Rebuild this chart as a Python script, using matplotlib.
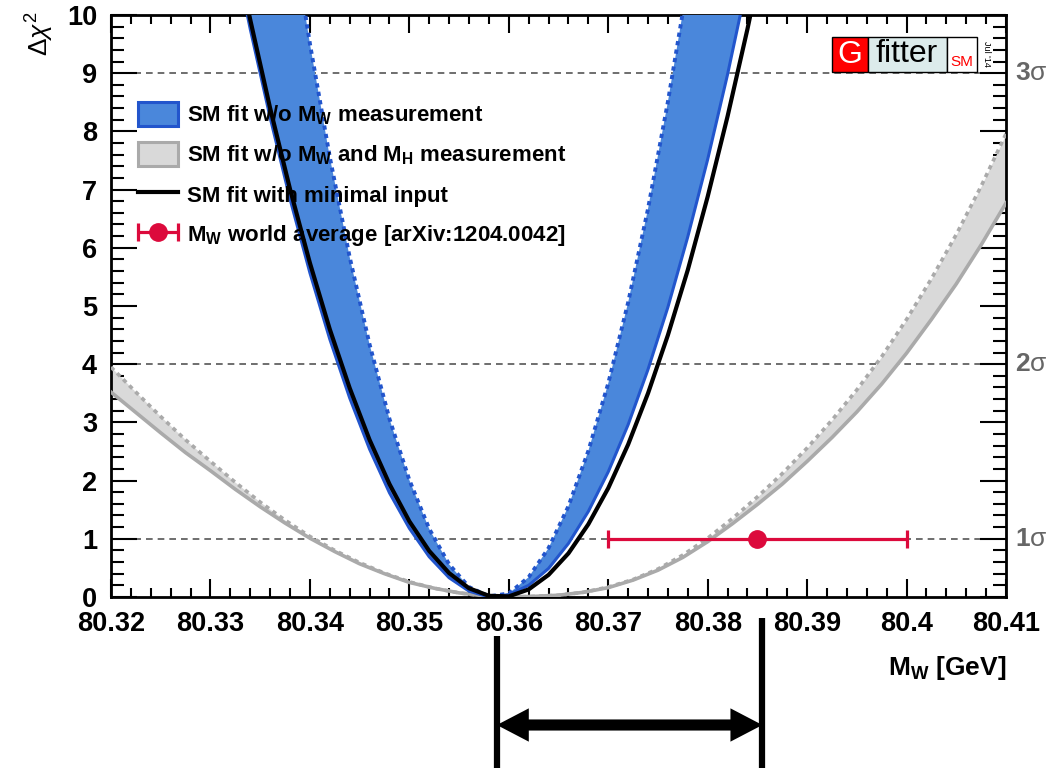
import matplotlib
matplotlib.use('Agg')
import matplotlib.pyplot as plt
import matplotlib.transforms as mtransforms
from matplotlib.patches import Patch, Rectangle, FancyArrowPatch
from matplotlib.lines import Line2D
from matplotlib.legend_handler import HandlerErrorbar
from matplotlib.ticker import MultipleLocator, FixedLocator

plt.rcParams['font.family'] = ['Liberation Sans', 'DejaVu Sans']
plt.rcParams['mathtext.fontset'] = 'custom'
plt.rcParams['mathtext.rm'] = 'Liberation Sans'
plt.rcParams['mathtext.bf'] = 'Liberation Sans:bold'
plt.rcParams['mathtext.it'] = 'Liberation Sans:italic'
plt.rcParams['mathtext.sf'] = 'Liberation Sans'

# --- data ---
# blue band + black curve (MW in GeV, delta chi2)
mw_fit = [80.332, 80.334, 80.336, 80.338, 80.340, 80.342, 80.344, 80.346,
          80.348, 80.350, 80.352, 80.354, 80.356, 80.358, 80.360, 80.362,
          80.364, 80.366, 80.368, 80.370, 80.372, 80.374, 80.376, 80.378,
          80.380, 80.382, 80.384, 80.386]
chi2_nomw_outer = [11.42, 9.76, 8.24, 6.84, 5.57, 4.43, 3.42, 2.54, 1.79,
                   1.18, 0.69, 0.33, 0.10, 0.00, 0.04, 0.20, 0.49, 0.92,
                   1.47, 2.15, 2.96, 3.91, 4.98, 6.19, 7.52, 8.98, 10.58,
                   12.30]
chi2_nomw_inner = [19.51, 16.67, 14.06, 11.67, 9.51, 7.56, 5.84, 4.34, 3.06,
                   2.01, 1.17, 0.56, 0.17, 0.01, 0.06, 0.34, 0.84, 1.56,
                   2.51, 3.67, 5.06, 6.67, 8.51, 10.56, 12.84, 15.34, 18.06,
                   21.00]
chi2_minimal = [11.56, 9.92, 8.40, 7.01, 5.74, 4.60, 3.59, 2.70, 1.94, 1.30,
                0.79, 0.41, 0.15, 0.02, 0.01, 0.13, 0.38, 0.75, 1.25, 1.87,
                2.62, 3.50, 4.50, 5.62, 6.88, 8.26, 9.76, 11.39]

# grey band (fit w/o MW and MH)
mw_grey = [80.3200, 80.3225, 80.3250, 80.3275, 80.3300, 80.3325, 80.3350,
           80.3375, 80.3400, 80.3425, 80.3450, 80.3475, 80.3500, 80.3525,
           80.3550, 80.3575, 80.3600, 80.3625, 80.3650, 80.3675, 80.3700,
           80.3725, 80.3750, 80.3775, 80.3800, 80.3825, 80.3850, 80.3875,
           80.3900, 80.3925, 80.3950, 80.3975, 80.4000, 80.4025, 80.4050,
           80.4075, 80.4100]
chi2_grey_inner = [3.95, 3.52, 3.10, 2.70, 2.33, 1.97, 1.63, 1.32, 1.04, 0.80,
                   0.59, 0.41, 0.26, 0.15, 0.07, 0.02, 0.00, 0.01, 0.03, 0.08,
                   0.17, 0.30, 0.48, 0.72, 1.01, 1.35, 1.72, 2.12, 2.56, 3.04,
                   3.56, 4.13, 4.77, 5.47, 6.23, 7.06, 7.96]
chi2_grey_outer = [3.52, 3.17, 2.82, 2.48, 2.17, 1.85, 1.55, 1.27, 1.01, 0.78,
                   0.57, 0.40, 0.25, 0.15, 0.07, 0.02, 0.00, 0.01, 0.03, 0.08,
                   0.16, 0.29, 0.46, 0.68, 0.95, 1.26, 1.59, 1.94, 2.33, 2.74,
                   3.18, 3.66, 4.19, 4.77, 5.38, 6.05, 6.77]

# world average
mw_avg = 80.385
mw_err = 0.015
# ends of the arrow drawn below the axis
arrow_left = 80.3588
arrow_right = 80.3855

sigma_levels = [1, 4, 9]
sigma_digits = ['1', '2', '3']

x_ticks = [80.32, 80.33, 80.34, 80.35, 80.36, 80.37, 80.38, 80.39, 80.40, 80.41]
x_tick_labels = ['80.32', '80.33', '80.34', '80.35', '80.36', '80.37',
                 '80.38', '80.39', '80.4', '80.41']
y_ticks = [0, 1, 2, 3, 4, 5, 6, 7, 8, 9, 10]

blue_fill = '#4a87db'
blue_line = '#2255cc'
grey_fill = '#d9d9d9'
grey_line = '#aaaaaa'
red = '#dc0a3c'

fig = plt.figure(figsize=(10.59, 7.68), dpi=100)
ax = fig.add_axes([0.1048, 0.2227, 0.8452, 0.7578])

# sigma lines
for lev in sigma_levels:
    ax.axhline(lev, color='#555555', lw=1.2, ls=(0, (4, 3)), zorder=1)

# grey band
ax.fill_between(mw_grey, chi2_grey_outer, chi2_grey_inner, color=grey_fill,
                lw=0, zorder=2)
ax.plot(mw_grey, chi2_grey_outer, color=grey_line, lw=2.6, zorder=3)
ax.plot(mw_grey, chi2_grey_inner, color=grey_line, lw=2.6,
        dashes=(1.2, 1.2), zorder=3)

# blue band
ax.fill_between(mw_fit, chi2_nomw_outer, chi2_nomw_inner, color=blue_fill,
                lw=0, zorder=4)
ax.plot(mw_fit, chi2_nomw_outer, color=blue_line, lw=2.2, zorder=5)
ax.plot(mw_fit, chi2_nomw_inner, color=blue_line, lw=2.8,
        dashes=(1.1, 1.1), zorder=5)

# black curve
ax.plot(mw_fit, chi2_minimal, color='black', lw=3.0, zorder=6)

# world average
eb = ax.errorbar([mw_avg], [1], xerr=[mw_err], fmt='o', color=red, ms=12.5,
                 lw=2.3, capsize=6.5, capthick=2.3, zorder=7)

ax.set_xlim(80.32, 80.41)
ax.set_ylim(0, 10)
ax.xaxis.set_major_locator(FixedLocator(x_ticks))
ax.set_xticklabels(x_tick_labels)
ax.xaxis.set_minor_locator(MultipleLocator(0.002))
ax.yaxis.set_major_locator(FixedLocator(y_ticks))
ax.yaxis.set_minor_locator(MultipleLocator(0.2))
ax.tick_params(which='both', direction='in', top=True, right=True, width=1.5)
ax.tick_params(axis='x', which='major', length=13, pad=10, labelsize=19.5)
ax.tick_params(axis='x', which='minor', length=6.5)
ax.tick_params(axis='y', which='major', length=19, pad=10, labelsize=19.5)
ax.tick_params(axis='y', which='minor', length=9.5)
for t in ax.get_xticklabels() + ax.get_yticklabels():
    t.set_fontweight('bold')
for sp in ax.spines.values():
    sp.set_linewidth(2.0)

# sigma labels on the right
trans_r = mtransforms.blended_transform_factory(ax.transAxes, ax.transData)
for lev, dig in zip(sigma_levels, sigma_digits):
    ax.text(1.010, lev, r'$\mathbf{' + dig + '}$σ', transform=trans_r,
            ha='left', va='center', fontsize=19, color='#666666')

# axis labels
fig.text(0.038, 0.985, r'$\Delta\chi^{2}$', rotation=90, ha='center',
         va='top', fontsize=19)
fig.text(0.950, 0.130, r'$\mathbf{M_{W}}$ [GeV]', ha='right', va='center',
         fontsize=19, fontweight='bold')

# legend
handles = [
    Patch(facecolor=blue_fill, edgecolor=blue_line, lw=2.2),
    Patch(facecolor=grey_fill, edgecolor=grey_line, lw=2.2),
    Line2D([], [], color='black', lw=3.0),
    eb,
]
labels = [
    r'SM fit w/o $\mathbf{M_{W}}$ measurement',
    r'SM fit w/o $\mathbf{M_{W}}$ and $\mathbf{M_{H}}$ measurement',
    'SM fit with minimal input',
    r'$\mathbf{M_{W}}$ world average [arXiv:1204.0042]',
]
ax.legend(handles, labels, loc='upper left', bbox_to_anchor=(0.030, 0.851),
          frameon=False, prop={'weight': 'bold', 'size': 16},
          handlelength=1.8, handleheight=1.3, handletextpad=0.4,
          labelspacing=0.68, borderpad=0, borderaxespad=0,
          handler_map={type(eb): HandlerErrorbar(xerr_size=0.9)})

# Gfitter logo
logo = [(832, 868, 'red'), (868, 947, '#dcebeb'), (947, 977, 'white')]
for x0, x1, c in logo:
    fig.add_artist(Rectangle((x0 / 1059, 1 - 72 / 768), (x1 - x0) / 1059,
                             35 / 768, transform=fig.transFigure,
                             facecolor=c, edgecolor='black', lw=1.0,
                             zorder=10))
fig.text(850 / 1059, 1 - 55 / 768, 'G', color='white', fontsize=23,
         ha='center', va='center', zorder=11)
fig.text(907 / 1059, 1 - 54 / 768, 'fitter', color='black', fontsize=23,
         ha='center', va='center', zorder=11)
fig.text(962 / 1059, 1 - 62 / 768, 'SM', color='red', fontsize=11,
         ha='center', va='center', zorder=11)
fig.text(986 / 1059, 1 - 54 / 768, "Jul '14", color='black', fontsize=6.5,
         rotation=-90, ha='center', va='center', zorder=11)

# annotation below the axis
trans_b = mtransforms.blended_transform_factory(ax.transData, fig.transFigure)
ax.plot([arrow_left, arrow_left], [0.0, 1 - 636 / 768], color='black',
        lw=4.5, transform=trans_b, clip_on=False, solid_capstyle='butt')
ax.plot([arrow_right, arrow_right], [0.0, 1 - 618 / 768], color='black',
        lw=4.5, transform=trans_b, clip_on=False, solid_capstyle='butt')
y_arrow = 1 - 725 / 768
head = 0.0032  # head length along x (about 32 px)
arrow_style = 'simple,head_length=23,head_width=24,tail_width=8'
# long arrow: tail starts inside the left head, head at the right end
fig.add_artist(FancyArrowPatch((arrow_left + 0.5 * head, y_arrow),
                               (arrow_right, y_arrow), transform=trans_b,
                               arrowstyle=arrow_style, mutation_scale=1,
                               lw=0, color='black', shrinkA=0, shrinkB=0,
                               clip_on=False))
# left head only
fig.add_artist(FancyArrowPatch((arrow_left + head, y_arrow),
                               (arrow_left, y_arrow), transform=trans_b,
                               arrowstyle=arrow_style, mutation_scale=1,
                               lw=0, color='black', shrinkA=0, shrinkB=0,
                               clip_on=False))

fig.savefig('out.png', dpi=100)
